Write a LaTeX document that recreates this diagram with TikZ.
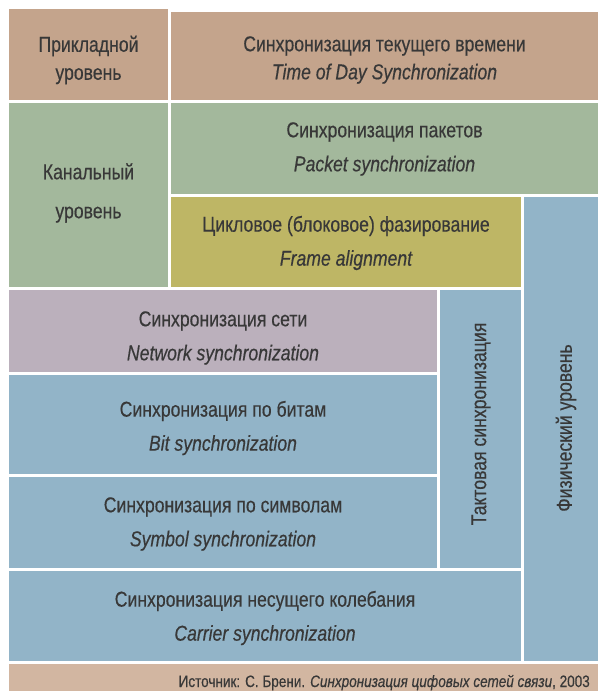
\documentclass[tikz,border=0pt]{standalone}
\usepackage{fontspec}
\setmainfont{Liberation Sans}[FakeStretch=0.82, FakeBold=0.4]
\definecolor{appbrown}{HTML}{C4A48C}
\definecolor{linkgreen}{HTML}{A3B89C}
\definecolor{framegold}{HTML}{BEB665}
\definecolor{netmauve}{HTML}{BBB0BC}
\definecolor{physblue}{HTML}{92B4C8}
\definecolor{srcbrown}{HTML}{D2B6A1}
\definecolor{textgray}{HTML}{383838}

\begin{document}
\begin{tikzpicture}[x=1pt, y=-1pt,
    lbl/.style  = {align=center, text=textgray, inner sep=0pt, font=\fontsize{21.5}{34}\selectfont},
    toplbl/.style = {lbl, font=\fontsize{21.5}{28}\selectfont},
    linklbl/.style = {lbl, font=\fontsize{21.5}{39}\selectfont},
    srclbl/.style = {text=textgray, inner sep=0pt, font=\fontsize{16.5}{18}\selectfont}]
            \useasboundingbox (0,0) rectangle (598,691);

            % draw coloured boxes
            \fill[appbrown]  (  9,  9) rectangle (168,100);
            \fill[appbrown]  (171, 12) rectangle (598,100);
            \fill[linkgreen] (  9,103) rectangle (168,287);
            \fill[linkgreen] (171,103) rectangle (598,194);
            \fill[framegold] (171,197) rectangle (521,287);
            \fill[physblue]  (524,197) rectangle (598,661);
            \fill[netmauve]  (  9,290) rectangle (437,372);
            \fill[physblue]  (440,290) rectangle (521,568);
            \fill[physblue]  (  9,375) rectangle (437,474);
            \fill[physblue]  (  9,477) rectangle (437,568);
            \fill[physblue]  (  9,571) rectangle (521,661);
            \fill[srcbrown]  (  9,664) rectangle (598,691);

            % draw labels
            \node[toplbl]  (app)    at ( 88.5, 60) {Прикладной\\уровень};
            \node[toplbl]  (tod)    at (384.5, 60) {Синхронизация текущего времени\\\itshape Time of Day Synchronization};
            \node[linklbl] (link)   at ( 88.5,193) {Канальный\\уровень};
            \node[lbl]     (packet) at (384.5,149) {Синхронизация пакетов\\\itshape Packet synchronization};
            \node[lbl]     (frame)  at (346.0,243) {Цикловое (блоковое) фазирование\\\itshape Frame alignment};
            \node[lbl]     (net)    at (223.0,338) {Синхронизация сети\\\itshape Network synchronization};
            \node[lbl]     (bit)    at (223.0,428) {Синхронизация по битам\\\itshape Bit synchronization};
            \node[lbl]     (symbol) at (223.0,524) {Синхронизация по символам\\\itshape Symbol synchronization};
            \node[lbl]     (carrier) at (265.0,618) {Синхронизация несущего колебания\\\itshape Carrier synchronization};
            \node[lbl, rotate=90] (clock) at (481.0,424) {Тактовая синхронизация};
            \node[lbl, rotate=90] (phys)  at (566.0,428) {Физический уровень};
            \node[srclbl, anchor=base east] (source) at (590,687)
                {Источник: С. Брени. \textit{Синхронизация цифовых сетей связи}, 2003};
        \end{tikzpicture}
\end{document}
